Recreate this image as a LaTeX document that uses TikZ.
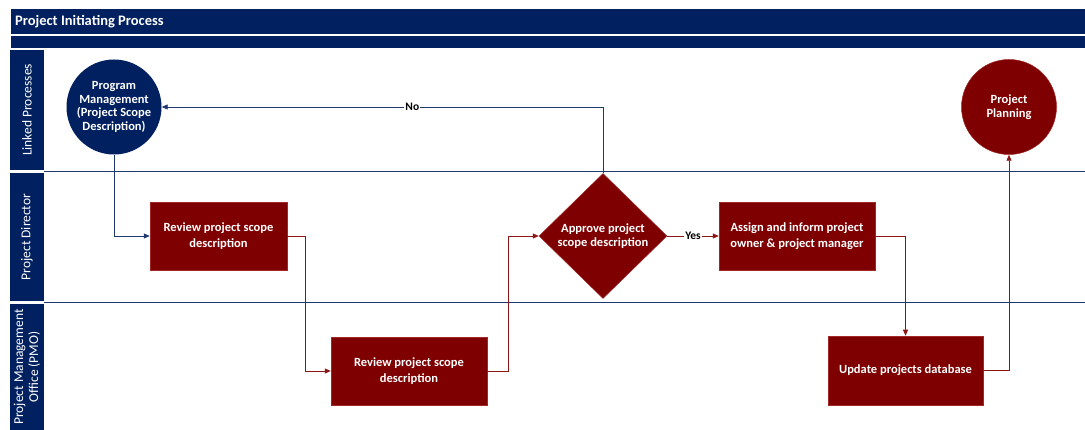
\documentclass[tikz,border=0pt]{standalone}
\usepackage{fontspec}
\setmainfont{Carlito}
\usetikzlibrary{shapes.geometric,arrows.meta}
\definecolor{navy}{RGB}{0,32,96}
\definecolor{navyline}{RGB}{31,56,110}
\definecolor{maroon}{RGB}{127,0,0}
\definecolor{maroonedge}{RGB}{160,40,40}
\definecolor{flowred}{RGB}{140,22,22}
\tikzset{
  bar/.style={fill=navy, draw=none},
  lanelabel/.style={fill=navy, draw=none},
  lanetext/.style={text=white, font=\fontsize{13.5}{15}\selectfont, rotate=90, align=center},
  laneline/.style={draw=navyline, line width=1.3pt},
  task/.style={rectangle, fill=maroon, draw=maroonedge, line width=0.5pt,
    minimum width=137pt, minimum height=68pt, inner sep=0pt, text=white,
    align=center, font=\bfseries\fontsize{12.5}{16.3}\selectfont},
  decision/.style={diamond, fill=maroon, draw=maroonedge, line width=0.5pt,
    minimum width=128pt, minimum height=125pt, inner sep=0pt, text=white,
    align=center, font=\bfseries\fontsize{12.5}{14}\selectfont},
  linkproc/.style={circle, minimum size=95pt, inner sep=0pt, text=white,
    align=center, font=\bfseries\fontsize{12.5}{13.5}\selectfont},
  navyflow/.style={draw=navyline, line width=0.9pt, -{Triangle[length=6pt,width=5pt]}},
  redflow/.style={draw=flowred, line width=0.9pt, -{Triangle[length=6pt,width=5pt]}},
  flowlabel/.style={fill=white, inner sep=1pt, text=black, font=\bfseries\fontsize{11.5}{13}\selectfont}
}
\begin{document}
\begin{tikzpicture}[x=1pt, y=-1pt]
  % canvas
  \useasboundingbox (0,0) rectangle (1085,430);
  \fill[white] (0,0) rectangle (1085,430);

  % header bars
  \fill[bar] (11,9) rectangle (1085,34);
  \node[anchor=west, text=white, font=\bfseries\fontsize{14.5}{16}\selectfont, inner sep=0pt] (title) at (15,21.5) {Project Initiating Process};
  \fill[bar] (11,36) rectangle (1085,48);

  % lane headers
  \fill[lanelabel] (10,50) rectangle (44,170);
  \fill[lanelabel] (10,173) rectangle (44,301);
  \fill[lanelabel] (10,304) rectangle (44,430);
  \node[lanetext] (l1) at (27,110) {Linked Processes};
  \node[lanetext] (l2) at (27,237) {Project Director};
  \node[lanetext] (l3) at (27,367) {Project Management\\Office (PMO)};

  % lane separators
  \draw[laneline] (44,171.5) -- (1085,171.5);
  \draw[laneline] (44,302.5) -- (1085,302.5);

  % nodes
  \node[linkproc, fill=navy] (pm) at (114,107) {Program\\Management\\(Project Scope\\Description)};
  \node[linkproc, fill=maroon, draw=maroonedge, line width=0.5pt] (pp) at (1009,107) {Project\\Planning};
  \node[task] (r1) at (218.5,236) {Review project scope\\description};
  \node[task, minimum width=156pt] (r2) at (409,371) {Review project scope\\description};
  \node[decision] (d) at (603,236) {Approve project\\scope description};
  \node[task, minimum width=156pt] (a) at (797,236) {Assign and inform project\\owner \& project manager};
  \node[task, minimum width=155pt, minimum height=69pt] (u) at (905.5,370.5) {Update projects database};

  % connectors
  \draw[navyflow] (pm.south) |- (r1.west);
  \draw[redflow] (r1.east) -- ([xshift=18pt]r1.east) |- (r2.west);
  \draw[redflow] (r2.east) -- ([xshift=21pt]r2.east) |- (d.west);
  \draw[navyflow] (d.north) |- (pm.east) node[flowlabel, pos=0.716] (no) {No};
  \draw[redflow] (d.east) -- (a.west) node[flowlabel, midway] (yes) {Yes};
  \draw[redflow] (a.east) -| (u.north);
  \draw[redflow] (u.east) -| (pp.south);
\end{tikzpicture}
\end{document}
